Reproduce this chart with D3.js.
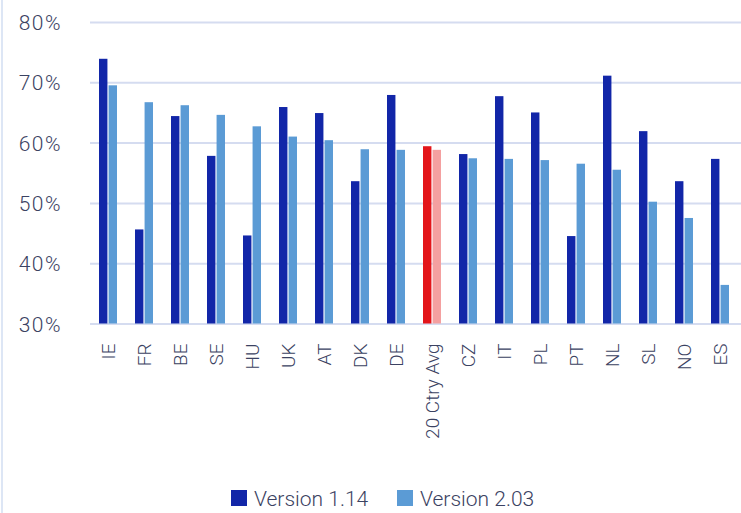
<!DOCTYPE html>
<html>
<head>
<meta charset="utf-8">
<script src="https://cdn.jsdelivr.net/npm/d3@7"></script>
<style>
  body { margin: 0; background: #fff; }
  svg { display: block; font-family: Roboto, sans-serif; font-weight: 300; }
</style>
</head>
<body>
<div id="chart"></div>
<script>
// categories and series values (percent)
const countries = ['IE', 'FR', 'BE', 'SE', 'HU', 'UK', 'AT', 'DK', 'DE', '20 Ctry Avg',
  'CZ', 'IT', 'PL', 'PT', 'NL', 'SL', 'NO', 'ES'];
const v114 = [73.9, 45.6, 64.4, 57.8, 44.6, 65.9, 64.9, 53.6, 67.9, 59.4,
  58.1, 67.7, 65.0, 44.5, 71.1, 61.9, 53.6, 57.3];
const v203 = [69.5, 66.7, 66.2, 64.6, 62.7, 61.0, 60.4, 58.9, 58.8, 58.8,
  57.4, 57.3, 57.1, 56.5, 55.5, 50.2, 47.5, 36.4];
const seriesNames = ['Version 1.14', 'Version 2.03'];
const yTicks = [30, 40, 50, 60, 70, 80];

const width = 741;
const height = 513;
const margin = { top: 22, right: 3, bottom: 190, left: 90 };

const colors = ['#1226a8', '#5b9bd5'];
const avgColors = ['#e3151a', '#f4a0a0'];
const textColor = '#3b4262';

const svg = d3.select('#chart')
  .append('svg')
  .attr('width', width)
  .attr('height', height);

// faint frame line on the left
svg.append('line')
  .attr('x1', 2).attr('x2', 2)
  .attr('y1', 0).attr('y2', height)
  .attr('stroke', '#dde6f5')
  .attr('stroke-width', 2);

const xScale = d3.scaleBand()
  .domain(countries)
  .range([margin.left, width - margin.right])
  .paddingInner(0.5)
  .paddingOuter(0.25);

const xSub = d3.scaleBand()
  .domain([0, 1])
  .range([0, xScale.bandwidth()])
  .paddingInner(0.12);

const yScale = d3.scaleLinear()
  .domain([30, 80])
  .range([height - margin.bottom + 0.5, margin.top]);

// gridlines
svg.append('g')
  .attr('class', 'gridlines')
  .attr('transform', `translate(${margin.left}, 0)`)
  .call(d3.axisLeft(yScale).tickValues(yTicks).tickFormat('').tickSize(-(width - margin.left)))
  .call(g => g.select('.domain').remove())
  .selectAll('line')
  .attr('stroke', '#d5dcf0')
  .attr('stroke-width', 2);

// y axis labels
svg.append('g')
  .attr('transform', `translate(62, 0)`)
  .call(d3.axisLeft(yScale).tickValues(yTicks).tickSize(0).tickFormat(d => d + '%'))
  .call(g => g.select('.domain').remove())
  .selectAll('text')
  .attr('x', 0)
  .attr('dy', '0.36em')
  .style('font-size', '21px')
  .style('letter-spacing', '1.5px')
  .style('font-family', 'Roboto, sans-serif')
  .style('font-weight', 300)
  .attr('fill', textColor);

// bars
const groups = svg.append('g')
  .selectAll('g')
  .data(countries)
  .join('g')
  .attr('transform', d => `translate(${xScale(d)}, 0)`);

groups.selectAll('rect')
  .data((d, i) => [
    { s: 0, v: v114[i], avg: d === '20 Ctry Avg' },
    { s: 1, v: v203[i], avg: d === '20 Ctry Avg' }
  ])
  .join('rect')
  .attr('x', d => xSub(d.s))
  .attr('width', xSub.bandwidth())
  .attr('y', d => yScale(d.v))
  .attr('height', d => yScale(30) - yScale(d.v))
  .attr('fill', d => d.avg ? avgColors[d.s] : colors[d.s]);

// x axis labels
svg.append('g')
  .attr('transform', `translate(0, ${yScale(30)})`)
  .call(d3.axisBottom(xScale).tickSize(0))
  .call(g => g.select('.domain').remove())
  .selectAll('text')
  .attr('transform', 'rotate(-90)')
  .attr('x', -20)
  .attr('y', 0)
  .attr('dy', '0.36em')
  .style('text-anchor', 'end')
  .style('font-size', '19px')
  .style('font-family', 'Roboto, sans-serif')
  .style('font-weight', 300)
  .attr('fill', textColor);

// legend
const legend = svg.append('g').attr('class', 'legend');
const legendX = [231, 397];
seriesNames.forEach((name, i) => {
  legend.append('rect')
    .attr('x', legendX[i])
    .attr('y', 490)
    .attr('width', 16)
    .attr('height', 16)
    .attr('fill', colors[i]);
  legend.append('text')
    .attr('x', legendX[i] + 23)
    .attr('y', 506)
    .text(name)
    .style('font-size', '21px')
    .attr('fill', textColor);
});
</script>
</body>
</html>
